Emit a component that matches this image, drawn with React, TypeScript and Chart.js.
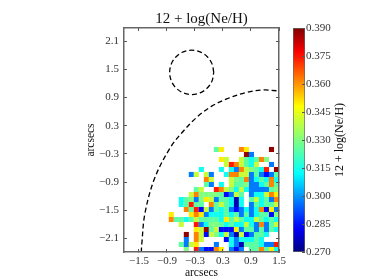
import React, { useEffect, useRef } from "react";
import { Chart, registerables } from "chart.js";

Chart.register(...registerables);

const _ = null;
const titleText = "12 + log(Ne/H)";
const axisText = "arcsecs";
const xTicks = [-1.5, -0.9, -0.3, 0.3, 0.9, 1.5];
const yTicks = [-2.1, -1.5, -0.9, -0.3, 0.3, 0.9, 1.5, 2.1];
const cbarTicks = [0.27, 0.285, 0.3, 0.315, 0.33, 0.345, 0.36, 0.375, 0.39];
const xCentres = [-0.807,-0.7,-0.593,-0.485,-0.378,-0.271,-0.163,-0.056,0.051,0.159,0.266,0.373,0.481,0.588,0.695,0.803,0.91,1.017,1.125,1.232,1.339,1.446];
const yCentres = [-2.337,-2.23,-2.124,-2.017,-1.911,-1.804,-1.698,-1.591,-1.485,-1.378,-1.272,-1.165,-1.059,-0.952,-0.846,-0.739,-0.633,-0.526,-0.42,-0.313,-0.207];

// values in thousandths, rows from the bottom of the map, columns from the left
const r00 = [_,_,_,330,_,374,297,284,284,362,350,_,297,284,297,_,325,325,362,325,350,314];
const r01 = [_,_,325,297,340,350,_,_,_,297,_,_,314,297,276,325,325,325,314,297,297,374];
const r02 = [_,_,_,297,_,362,340,_,_,_,_,284,314,297,314,314,314,325,314,_,_,_];
const r03 = [_,_,_,388,_,362,340,284,340,330,314,340,297,276,340,284,297,325,325,314,_,_];
const r04 = [_,_,_,_,_,350,340,388,325,340,284,284,284,350,297,325,325,297,325,297,325,314];
const r05 = [_,_,340,_,_,374,297,314,330,330,325,314,325,314,314,340,314,297,362,297,325,340];
const r06 = [362,325,325,314,325,340,325,325,325,325,314,350,325,340,325,314,314,340,325,314,325,314];
const r07 = [350,_,_,_,350,362,350,297,314,314,314,325,314,325,297,325,297,314,325,325,284,330];
const r08 = [_,_,_,362,325,374,284,340,297,325,314,325,297,284,297,314,297,314,362,284,350,297];
const r09 = [_,_,314,325,374,325,325,_,362,325,340,325,314,276,314,_,297,325,314,325,325,340];
const r10 = [_,_,314,325,330,297,330,350,340,297,325,325,314,276,314,_,325,340,314,325,297,362];
const r11 = [_,_,_,_,340,362,330,330,330,330,325,284,297,340,325,_,297,314,314,340,362,350];
const r12 = [_,_,_,_,_,325,340,_,_,374,362,340,330,314,340,314,297,297,297,297,325,330];
const r13 = [_,_,_,_,_,_,_,325,297,_,314,_,340,325,325,330,297,297,314,325,362,325];
const r14 = [_,_,_,_,_,_,_,362,340,_,_,_,340,330,325,362,297,314,325,314,362,314];
const r15 = [_,_,_,_,297,340,_,340,297,_,_,314,362,362,340,340,297,325,297,284,297,325];
const r16 = [_,_,_,_,_,_,314,_,_,_,314,_,314,297,362,340,330,325,314,374,_,388];
const r17 = [_,_,_,_,_,_,_,_,_,_,_,340,374,362,340,325,314,340,_,_,297,_];
const r18 = [_,_,_,_,_,_,_,_,_,_,350,340,_,_,340,325,314,325,362,330,_,_];
const r19 = [_,_,_,_,_,_,_,_,_,_,_,_,_,_,_,388,297,_,_,_,_,_];
const r20 = [_,_,_,_,_,_,_,_,_,325,350,_,_,_,362,350,_,_,_,_,388,_];
const mapRows = [r00,r01,r02,r03,r04,r05,r06,r07,r08,r09,r10,r11,r12,r13,r14,r15,r16,r17,r18,r19,r20];

const circleX = [0.102,0.066,-0.036,-0.189,-0.37,-0.551,-0.704,-0.806,-0.842,-0.806,-0.704,-0.551,-0.37,-0.189,-0.036,0.066,0.102];
const circleY = [1.435,1.616,1.769,1.871,1.907,1.871,1.769,1.616,1.435,1.254,1.101,0.999,0.963,0.999,1.101,1.254,1.435];
const arcX = [-1.45,-1.44,-1.37,-1.16,-0.83,-0.58,-0.26,0.05,0.38,0.81,1.16,1.5];
const arcY = [-2.4,-2.23,-1.56,-0.81,-0.17,0.15,0.48,0.71,0.87,1.01,1.06,1.04];

const vMin = 0.27;
const vMax = 0.39;
const jetStops: [number, number, number, number][] = [
  [0, 0, 0, 127], [0.11, 0, 0, 255], [0.35, 0, 255, 255], [0.65, 255, 255, 0], [0.89, 255, 0, 0], [1, 127, 0, 0],
];
function jet(t: number) {
  const c = Math.min(1, Math.max(0, t));
  for (let i = 1; i < jetStops.length; i++) {
    if (c <= jetStops[i][0]) {
      const a = jetStops[i - 1], b = jetStops[i];
      const f = (c - a[0]) / (b[0] - a[0]);
      return `rgb(${Math.round(a[1] + f * (b[1] - a[1]))},${Math.round(a[2] + f * (b[2] - a[2]))},${Math.round(a[3] + f * (b[3] - a[3]))})`;
    }
  }
  return "rgb(127,0,0)";
}

const SERIF = "'Liberation Serif', serif";
const TEXT = "#333";
const TICK = "#555";
const FRAME = "#666";
const fmt = (v: number, d: number) => v.toFixed(d).replace("-", "\u2212");

function fixedTicks(list: number[]) {
  return (s: any) => { s.ticks = list.map((value) => ({ value })); };
}

export default function App() {
  const mainRef = useRef<HTMLCanvasElement>(null);
  const barRef = useRef<HTMLCanvasElement>(null);

  useEffect(() => {
    const cellPts: { x: number; y: number }[] = [];
    const cellCols: string[] = [];
    mapRows.forEach((row, r) =>
      row.forEach((v, c) => {
        if (v === null) return;
        cellPts.push({ x: xCentres[c], y: yCentres[r] });
        cellCols.push(jet((v / 1000 - vMin) / (vMax - vMin)));
      })
    );
    const pair = (xs: number[], ys: number[]) => xs.map((x, i) => ({ x, y: ys[i] }));
    const grid = { display: true, drawOnChartArea: false, drawTicks: true, tickLength: -3, color: TICK, lineWidth: 1, z: 1 };
    const border = { color: FRAME, width: 1.5, z: 1 };
    const main = new Chart(mainRef.current!, {
      type: "scatter",
      data: {
        datasets: [
          { data: cellPts, pointStyle: "rect", pointRadius: 3.58, pointBorderWidth: 0, pointBackgroundColor: cellCols, showLine: false } as any,
          { data: pair(circleX, circleY), showLine: true, pointRadius: 0, borderColor: "#000", borderWidth: 1.3, borderDash: [5, 3], tension: 0.35 } as any,
          { data: pair(arcX, arcY), showLine: true, pointRadius: 0, borderColor: "#000", borderWidth: 1.3, borderDash: [5, 3], tension: 0.35 } as any,
        ],
      },
      options: {
        animation: false,
        responsive: false,
        layout: { padding: { right: 95 } },
        plugins: {
          legend: { display: false },
          tooltip: { enabled: false },
          title: { display: true, text: titleText, color: "#111", fullSize: false, font: { family: SERIF, size: 15, weight: "normal" }, padding: { top: 10, bottom: 0 } } as any,
        },
        scales: {
          x: {
            type: "linear", position: "bottom", min: -1.82, max: 1.5, grid, border,
            afterBuildTicks: fixedTicks(xTicks),
            afterFit: (s: any) => { s.height = 28; },
            ticks: { callback: (v: any) => fmt(+v, 1), color: TEXT, padding: 6, maxRotation: 0, autoSkip: false, font: { family: SERIF, size: 11 } },
            title: { display: true, text: axisText, color: "#111", font: { family: SERIF, size: 11.5 }, padding: { top: 0, bottom: 0 } },
          },
          x2: {
            type: "linear", position: "top", min: -1.82, max: 1.5, grid, border,
            afterBuildTicks: fixedTicks(xTicks),
            afterFit: (s: any) => { s.height = 0; },
            ticks: { callback: () => "", padding: 0 },
          },
          y: {
            type: "linear", position: "left", min: -2.39, max: 2.38, grid, border,
            afterBuildTicks: fixedTicks(yTicks),
            afterFit: (s: any) => { s.width = 124; },
            ticks: { callback: (v: any) => fmt(+v, 1), color: TEXT, padding: 8, autoSkip: false, font: { family: SERIF, size: 11 } },
            title: { display: true, text: axisText, color: "#111", font: { family: SERIF, size: 11.5 }, padding: { top: 84, bottom: 0 } },
          },
          y2: {
            type: "linear", position: "right", min: -2.39, max: 2.38, grid, border,
            afterBuildTicks: fixedTicks(yTicks),
            afterFit: (s: any) => { s.width = 0; },
            ticks: { callback: () => "", padding: 0 },
          },
        },
      } as any,
    });

    const cbar = new Chart(barRef.current!, {
      type: "bar",
      data: {
        labels: [""],
        datasets: [
          {
            data: [[vMin, vMax]],
            barPercentage: 1,
            categoryPercentage: 1,
            borderColor: FRAME,
            borderWidth: 1,
            borderSkipped: false,
            backgroundColor: (ctx: any) => {
              const area = ctx.chart.chartArea;
              if (!area) return "#000";
              const g = ctx.chart.ctx.createLinearGradient(0, area.bottom, 0, area.top);
              for (let i = 0; i <= 40; i++) g.addColorStop(i / 40, jet(i / 40));
              return g;
            },
          } as any,
        ],
      },
      options: {
        animation: false,
        responsive: false,
        layout: { padding: { left: 293, top: 28, bottom: 28 } },
        plugins: { legend: { display: false }, tooltip: { enabled: false }, title: { display: false } },
        scales: {
          x: { display: false },
          y: {
            type: "linear", position: "right", min: vMin, max: vMax,
            grid: { display: true, drawOnChartArea: false, drawTicks: true, tickLength: -3, color: TICK, lineWidth: 1, z: 1 },
            border: { display: false },
            afterBuildTicks: fixedTicks(cbarTicks),
            afterFit: (s: any) => { s.width = 69; },
            ticks: { callback: (v: any) => (+v).toFixed(3), color: TEXT, padding: 4, autoSkip: false, font: { family: SERIF, size: 11 } },
          },
        },
      } as any,
      plugins: [
        {
          id: "cbarLabel",
          afterDraw(chart: any) {
            const c = chart.ctx;
            c.save();
            c.translate(340, 140);
            c.rotate(-Math.PI / 2);
            c.font = `12px ${SERIF}`;
            c.fillStyle = "#111";
            c.textAlign = "center";
            c.textBaseline = "middle";
            c.fillText(titleText, 0, 0);
            c.restore();
          },
        },
      ],
    });
    return () => { main.destroy(); cbar.destroy(); };
  }, []);

  const st: React.CSSProperties = { position: "absolute", left: 0, top: 0 };
  return (
    <div style={{ position: "fixed", left: 0, top: 0, width: 374, height: 280, background: "#fff", overflow: "hidden", filter: "blur(0.35px)" }}>
      <canvas ref={mainRef} width={374} height={280} style={st} />
      <canvas ref={barRef} width={374} height={280} style={st} />
    </div>
  );
}
